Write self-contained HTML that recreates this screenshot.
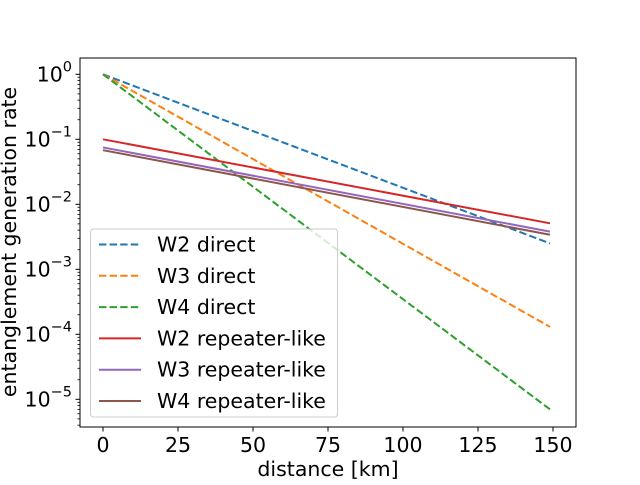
<!DOCTYPE html>
<html><head><meta charset="utf-8"><style>
body{margin:0;background:#fff}
svg text{font-family:"DejaVu Sans","Liberation Sans",sans-serif;fill:#000}
</style></head><body>
<svg id="chart" width="640" height="480" viewBox="0 0 640 480">
<rect x="0" y="0" width="640" height="480" fill="#fff"/>
<g id="marks"></g>
<g id="axes"></g>
</svg>
<script>
const distanceEnds=[0,149];
const seriesNames=["W2 direct","W3 direct","W4 direct","W2 repeater-like","W3 repeater-like","W4 repeater-like"];
const w2Direct=[1,2.5e-3];
const w3Direct=[1,1.3e-4];
const w4Direct=[1,7e-6];
const w2Rep=[0.1,5.1e-3];
const w3Rep=[0.075,3.8e-3];
const w4Rep=[0.068,3.4e-3];
const xTicks=[0,25,50,75,100,125,150];
const yTickExps=[0,-1,-2,-3,-4,-5];

const L=80,R=576,T=58,B=427;
const x=v=>103+v*3;
const y=v=>74.3-Math.log10(v)*65;
const NS="http://www.w3.org/2000/svg";
const marks=document.getElementById('marks'),axes=document.getElementById('axes');
function mk(tag,attrs,parent){const e=document.createElementNS(NS,tag);for(const k in attrs)e.setAttribute(k,attrs[k]);parent.appendChild(e);return e;}
const series=[w2Direct,w3Direct,w4Direct,w2Rep,w3Rep,w4Rep];
const colors=["#1f77b4","#ff7f0e","#2ca02c","#d62728","#9467bd","#8c564b"];
const FS=20.5;
series.forEach((s,i)=>{
  const ln=mk('line',{x1:x(distanceEnds[0]),y1:y(s[0]),x2:x(distanceEnds[1]),y2:y(s[1]),stroke:colors[i],'stroke-width':2,'stroke-dasharray':i<3?'7.4,3.2':'none'},marks);
  
  
});
const frame=mk('rect',{x:L,y:T,width:R-L,height:B-T,fill:'none',stroke:'#000','stroke-width':1},axes);


xTicks.forEach(t=>{
  mk('line',{x1:x(t),x2:x(t),y1:B,y2:B+4.5,stroke:'#000','stroke-width':1},axes);
  const tx=mk('text',{x:x(t),y:B+25,'text-anchor':'middle','font-size':FS},axes);
  tx.textContent=t;
  
  
});
yTickExps.forEach(e=>{
  const yy=y(Math.pow(10,e));
  mk('line',{x1:L-4.5,x2:L,y1:yy,y2:yy,stroke:'#000','stroke-width':1},axes);
  const tx=mk('text',{x:L-8,y:yy+7,'text-anchor':'end','font-size':FS},axes);
  tx.innerHTML='10<tspan dy="-10" font-size="14.5">'+(e===0?'0':'\u2212'+(-e))+'</tspan>';
  
  
});
for(let e=1;e>=-6;e--){for(let m=2;m<10;m++){const v=m*Math.pow(10,e-1);const yy=y(v);if(yy>T&&yy<B)mk('line',{x1:L-2.5,x2:L,y1:yy,y2:yy,stroke:'#000','stroke-width':0.8},axes);}}
const xl=mk('text',{x:328,y:476,'text-anchor':'middle','font-size':FS},axes);xl.textContent='distance [km]';


const yl=mk('text',{x:0,y:0,'text-anchor':'middle','font-size':FS,transform:'translate(16,242) rotate(-90)'},axes);yl.textContent='entanglement generation rate';


const lg=mk('g',{},axes);


mk('rect',{x:90.5,y:229,width:247,height:188,rx:3,fill:'#fff','fill-opacity':0.8,stroke:'#ccc','stroke-width':1},lg);
seriesNames.forEach((n,i)=>{
  const yy=244.5+i*31.3;
  mk('line',{x1:99,x2:141,y1:yy,y2:yy,stroke:colors[i],'stroke-width':2,'stroke-dasharray':i<3?'7.4,3.2':'none'},lg);
  const t=mk('text',{x:157,y:yy+7,'font-size':FS},lg);t.textContent=n;
  
  
});
</script>
</body></html>
